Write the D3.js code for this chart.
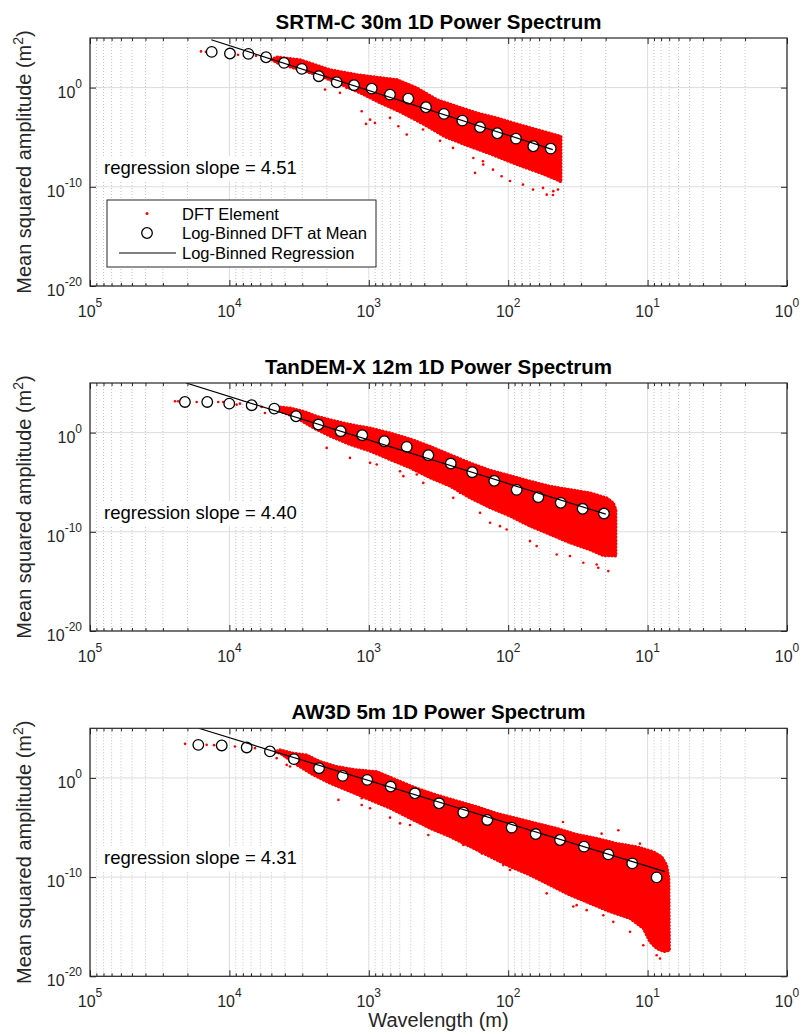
<!DOCTYPE html>
<html>
<head>
<meta charset="utf-8">
<script src="https://cdnjs.cloudflare.com/ajax/libs/d3/7.8.5/d3.min.js"></script>
<style>
  body { margin: 0; background: #fff; }
  svg { display: block; font-family: "Liberation Sans", Arial, Helvetica, sans-serif; }
</style>
</head>
<body>
<svg id="chart" width="802" height="1036"></svg>
<script>
// All values are log10 of wavelength (m) and of mean squared amplitude (m^2),
// read off the original figure.

var panelTitles = ["SRTM-C 30m 1D Power Spectrum", "TanDEM-X 12m 1D Power Spectrum", "AW3D 5m 1D Power Spectrum"];
var slopeLabels = ["regression slope = 4.51", "regression slope = 4.40", "regression slope = 4.31"];
var legendLabels = ["DFT Element", "Log-Binned DFT at Mean", "Log-Binned Regression"];
var xTickExps = [5, 4, 3, 2, 1, 0];
var yTickExps = [-20, -10, 0];

// ---- SRTM-C 30m ----
var srtmBinWl  = [4.127, 3.996, 3.864, 3.737, 3.608, 3.481, 3.359, 3.230, 3.106, 2.979, 2.848, 2.717, 2.590, 2.461, 2.329, 2.202, 2.078, 1.944, 1.820, 1.695];
var srtmBinAmp = [3.60, 3.43, 3.40, 3.06, 2.49, 1.89, 1.15, 0.54, 0.24, -0.10, -0.71, -1.11, -1.98, -2.65, -3.33, -3.99, -4.60, -5.14, -5.91, -6.15];
var srtmRegWl  = [4.13, 1.68];
var srtmRegAmp = [4.82, -6.25];
var srtmHiWl   = [3.700, 3.659, 3.494, 3.278, 3.085, 2.941, 2.798, 2.654, 2.511, 2.368, 2.224, 2.081, 1.937, 1.794, 1.650, 1.621];
var srtmHiAmp  = [2.85, 3.09, 2.82, 1.81, 1.31, 1.05, 0.81, -0.03, -1.21, -1.88, -2.55, -3.05, -3.66, -4.23, -4.80, -4.90];
var srtmLoWl   = [3.659, 3.494, 3.350, 3.207, 3.063, 2.920, 2.776, 2.611, 2.453, 2.288, 2.130, 1.987, 1.894, 1.772, 1.650, 1.621];
var srtmLoAmp  = [2.49, 1.78, 1.18, 0.37, -0.53, -1.54, -2.45, -3.66, -4.97, -5.88, -6.68, -7.49, -7.99, -8.60, -9.30, -9.51];
var srtmDotWl  = [4.204, 4.168, 3.938, 3.809, 3.694, 3.314, 3.207, 3.159, 3.051, 2.991, 2.956, 3.020, 2.848, 2.788, 2.728, 2.611, 2.489, 2.396, 2.238, 2.181, 2.109, 2.047, 1.987, 1.894, 1.822, 1.750, 1.724, 1.643, 1.679, 2.250, 2.179, 1.676];
var srtmDotAmp = [3.65, 3.60, 3.30, 3.20, 2.79, -0.20, -0.53, -0.03, -2.38, -3.23, -3.56, -3.66, -3.05, -3.89, -4.74, -4.23, -5.37, -6.08, -8.60, -7.42, -8.27, -8.93, -9.41, -9.78, -10.28, -10.11, -10.79, -10.28, -10.82, -7.09, -7.76, -10.44];

// ---- TanDEM-X 12m ----
var tdxBinWl  = [4.319, 4.159, 4.001, 3.840, 3.678, 3.522, 3.362, 3.202, 3.047, 2.889, 2.728, 2.573, 2.412, 2.258, 2.100, 1.939, 1.784, 1.623, 1.466, 1.313];
var tdxBinAmp = [3.09, 3.09, 2.92, 2.76, 2.42, 1.65, 0.81, 0.14, -0.26, -0.87, -1.44, -2.28, -3.12, -3.99, -4.86, -5.77, -6.51, -7.08, -7.68, -8.16];
var tdxRegWl  = [4.31, 1.30];
var tdxRegAmp = [5.0, -8.22];
var tdxHiWl   = [3.680, 3.637, 3.565, 3.470, 3.374, 3.278, 3.183, 3.087, 2.991, 2.848, 2.704, 2.561, 2.418, 2.274, 2.130, 1.987, 1.844, 1.700, 1.557, 1.413, 1.293, 1.246, 1.227];
var tdxHiAmp  = [2.40, 2.59, 2.48, 2.16, 1.65, 1.31, 0.98, 0.70, 0.47, -0.03, -0.63, -1.37, -2.22, -3.05, -3.79, -4.33, -4.89, -5.40, -5.74, -6.07, -6.58, -7.08, -7.75];
var tdxLoWl   = [3.637, 3.517, 3.398, 3.278, 3.135, 2.991, 2.848, 2.704, 2.561, 2.418, 2.274, 2.130, 1.987, 1.844, 1.700, 1.557, 1.413, 1.318, 1.227];
var tdxLoAmp  = [2.16, 1.48, 0.47, -0.36, -1.21, -1.87, -2.72, -3.55, -4.56, -5.40, -6.58, -7.58, -8.42, -9.43, -10.27, -11.11, -11.82, -12.40, -12.45];
var tdxDotWl  = [4.390, 4.367, 4.235, 4.080, 4.044, 3.948, 3.924, 3.768, 3.745, 3.709, 3.302, 3.135, 2.991, 2.943, 2.776, 2.752, 2.656, 2.609, 2.394, 2.346, 2.202, 2.130, 2.059, 2.011, 1.844, 1.796, 1.652, 1.557, 1.461, 1.365, 1.282, 1.354];
var tdxDotAmp = [3.16, 3.16, 3.09, 3.09, 3.09, 2.82, 2.92, 2.59, 1.98, 2.32, -1.54, -2.55, -3.05, -3.22, -3.89, -4.39, -4.23, -5.07, -6.58, -6.07, -8.09, -9.09, -9.43, -9.77, -10.94, -11.44, -12.29, -12.45, -13.12, -13.29, -13.96, -13.63];

// ---- AW3D 5m ----
var awBinWl  = [4.223, 4.055, 3.876, 3.709, 3.537, 3.357, 3.187, 3.011, 2.843, 2.669, 2.496, 2.322, 2.150, 1.975, 1.803, 1.628, 1.456, 1.282, 1.110, 0.935];
var awBinAmp = [3.33, 3.27, 3.07, 2.67, 1.89, 0.98, 0.20, -0.20, -0.87, -1.55, -2.56, -3.49, -4.24, -5.01, -5.66, -6.26, -6.93, -7.71, -8.62, -10.03];
var awRegWl  = [4.22, 0.875];
var awRegAmp = [5.0, -9.45];
var awHiWl   = [3.680, 3.637, 3.542, 3.446, 3.350, 3.231, 3.087, 2.944, 2.801, 2.656, 2.513, 2.369, 2.226, 2.083, 1.939, 1.796, 1.652, 1.509, 1.365, 1.222, 1.078, 0.959, 0.899, 0.863, 0.847, 0.843];
var awHiAmp  = [2.60, 2.83, 2.49, 2.32, 1.66, 1.15, 0.81, 0.65, -0.20, -1.04, -1.72, -2.32, -2.89, -3.57, -4.07, -4.58, -5.08, -5.69, -6.09, -6.60, -6.93, -7.43, -7.94, -8.79, -10.13, -17.40];
var awLoWl   = [3.637, 3.517, 3.398, 3.278, 3.135, 2.991, 2.848, 2.704, 2.561, 2.418, 2.274, 2.130, 1.987, 1.844, 1.700, 1.557, 1.413, 1.270, 1.127, 1.031, 0.983, 0.935, 0.882];
var awLoAmp  = [2.49, 1.31, 0.30, -0.54, -1.37, -2.22, -3.06, -4.07, -5.08, -5.92, -6.93, -7.94, -8.95, -9.80, -10.81, -11.82, -12.66, -13.49, -14.17, -15.18, -16.53, -17.20, -17.51];
var awDotWl  = [4.318, 4.163, 4.110, 3.960, 3.816, 3.661, 3.589, 3.565, 3.218, 3.051, 3.051, 2.991, 2.848, 2.776, 2.704, 2.573, 2.394, 2.322, 2.190, 2.035, 1.987, 1.724, 1.652, 1.533, 1.509, 1.437, 1.318, 1.246, 1.126, 1.031, 0.935, 0.911, 1.607, 1.330, 1.210, 1.055];
var awDotAmp = [3.43, 3.33, 3.30, 3.17, 3.00, 1.99, 1.31, 1.15, -2.22, -2.05, -2.73, -3.06, -4.00, -4.58, -4.75, -5.76, -6.09, -6.77, -7.61, -8.79, -9.29, -11.64, -11.14, -12.96, -12.83, -13.33, -13.84, -14.51, -15.52, -16.87, -17.88, -18.21, -4.44, -5.62, -5.28, -6.63];

var panels = [
  { binWl: srtmBinWl, binAmp: srtmBinAmp, regWl: srtmRegWl, regAmp: srtmRegAmp,
    hiWl: srtmHiWl, hiAmp: srtmHiAmp, loWl: srtmLoWl, loAmp: srtmLoAmp, dotWl: srtmDotWl, dotAmp: srtmDotAmp },
  { binWl: tdxBinWl, binAmp: tdxBinAmp, regWl: tdxRegWl, regAmp: tdxRegAmp,
    hiWl: tdxHiWl, hiAmp: tdxHiAmp, loWl: tdxLoWl, loAmp: tdxLoAmp, dotWl: tdxDotWl, dotAmp: tdxDotAmp },
  { binWl: awBinWl, binAmp: awBinAmp, regWl: awRegWl, regAmp: awRegAmp,
    hiWl: awHiWl, hiAmp: awHiAmp, loWl: awLoWl, loAmp: awLoAmp, dotWl: awDotWl, dotAmp: awDotAmp }
];

// ---- layout ----
var svg = d3.select("#chart");
var plotLeft = 90, plotRight = 787, plotHeight = 248;
var panelTops = [38, 383, 728.3];
var axisColor = "#262626";

var x = d3.scaleLog().domain([1e5, 1]).range([plotLeft, plotRight]);

var xMajors = xTickExps.map(function(e) { return Math.pow(10, e); });
var xMinors = [];
for (var k = 0; k < 5; k++) {
  for (var m = 2; m <= 9; m++) xMinors.push(m * Math.pow(10, k));
}
var yMajors = yTickExps.map(function(e) { return Math.pow(10, e); });

function pow10(v) { return Math.pow(10, v); }

// "10" with a raised exponent
function powerLabel(sel, exp) {
  sel.text("10");
  sel.append("tspan").attr("dy", -10).attr("font-size", 12).text(exp);
}

panels.forEach(function(p, i) {
  var top = panelTops[i];
  var y = d3.scaleLog().domain([1e-20, 1e5]).range([top + plotHeight, top]);
  var g = svg.append("g").attr("class", "panel");

  g.append("clipPath").attr("id", "clip" + i)
    .append("rect")
      .attr("x", plotLeft).attr("y", top)
      .attr("width", plotRight - plotLeft).attr("height", plotHeight);

  // Grid lines
  g.append("g").selectAll("line")
    .data(xMinors)
    .enter().append("line")
      .attr("x1", function(d) { return x(d); })
      .attr("x2", function(d) { return x(d); })
      .attr("y1", top).attr("y2", top + plotHeight)
      .attr("stroke", "#b4b4b4")
      .attr("stroke-width", 0.8)
      .attr("stroke-dasharray", "1,2");

  g.append("g").selectAll("line")
    .data(xMajors)
    .enter().append("line")
      .attr("x1", function(d) { return x(d); })
      .attr("x2", function(d) { return x(d); })
      .attr("y1", top).attr("y2", top + plotHeight)
      .attr("stroke", "#dcdcdc");

  g.append("g").selectAll("line")
    .data(yMajors)
    .enter().append("line")
      .attr("x1", plotLeft).attr("x2", plotRight)
      .attr("y1", function(d) { return y(d); })
      .attr("y2", function(d) { return y(d); })
      .attr("stroke", "#dcdcdc");

  var data = g.append("g").attr("clip-path", "url(#clip" + i + ")");

  // Dense cloud of DFT elements: upper edge left->right, lower edge right->left
  var outline = p.hiWl.map(function(w, j) { return [w, p.hiAmp[j]]; })
    .concat(p.loWl.map(function(w, j) { return [w, p.loAmp[j]]; }).reverse());
  var cloudLine = d3.line()
    .x(function(d) { return x(pow10(d[0])); })
    .y(function(d) { return y(pow10(d[1])); });
  data.append("path")
    .attr("d", cloudLine(outline) + "Z")
    .attr("fill", "#ff0000")
    .attr("stroke", "#ff0000")
    .attr("stroke-width", 1.5)
    .attr("stroke-linejoin", "round");
  // beaded edge so the cloud border reads as dots
  data.append("path")
    .attr("d", cloudLine(outline) + "Z")
    .attr("fill", "none")
    .attr("stroke", "#ff0000")
    .attr("stroke-width", 3)
    .attr("stroke-linecap", "round")
    .attr("stroke-dasharray", "0.1,3.2");

  // Scattered individual DFT elements
  data.append("g").selectAll("circle")
    .data(p.dotWl)
    .enter().append("circle")
      .attr("cx", function(d) { return x(pow10(d)); })
      .attr("cy", function(d, j) { return y(pow10(p.dotAmp[j])); })
      .attr("r", 1.3)
      .attr("fill", "#ff0000");

  // Log-binned means
  data.append("g").selectAll("circle")
    .data(p.binWl)
    .enter().append("circle")
      .attr("cx", function(d) { return x(pow10(d)); })
      .attr("cy", function(d, j) { return y(pow10(p.binAmp[j])); })
      .attr("r", 5.3)
      .attr("fill", "#fff")
      .attr("stroke", "#000")
      .attr("stroke-width", 1.3);

  // Regression line
  data.append("line")
    .attr("x1", x(pow10(p.regWl[0]))).attr("y1", y(pow10(p.regAmp[0])))
    .attr("x2", x(pow10(p.regWl[1]))).attr("y2", y(pow10(p.regAmp[1])))
    .attr("stroke", "#000")
    .attr("stroke-width", 1.2);

  // Ticks (inward, all four sides)
  var axes = g.append("g").attr("class", "axes");
  axes.append("g").attr("transform", "translate(0," + (top + plotHeight) + ")")
    .call(d3.axisBottom(x).tickValues(xMajors).tickSize(-6).tickFormat(""));
  axes.append("g").attr("transform", "translate(0," + (top + plotHeight) + ")")
    .call(d3.axisBottom(x).tickValues(xMinors).tickSize(-3).tickFormat(""));
  axes.append("g").attr("transform", "translate(0," + top + ")")
    .call(d3.axisTop(x).tickValues(xMajors).tickSize(-6).tickFormat(""));
  axes.append("g").attr("transform", "translate(0," + top + ")")
    .call(d3.axisTop(x).tickValues(xMinors).tickSize(-3).tickFormat(""));
  axes.append("g").attr("transform", "translate(" + plotLeft + ",0)")
    .call(d3.axisLeft(y).tickValues(yMajors).tickSize(-6).tickFormat(""));
  axes.append("g").attr("transform", "translate(" + plotRight + ",0)")
    .call(d3.axisRight(y).tickValues(yMajors).tickSize(-6).tickFormat(""));
  axes.selectAll(".domain").remove();
  axes.selectAll(".tick line").attr("stroke", axisColor);

  // Box
  g.append("rect")
    .attr("x", plotLeft).attr("y", top)
    .attr("width", plotRight - plotLeft).attr("height", plotHeight)
    .attr("fill", "none")
    .attr("stroke", axisColor)
    .attr("stroke-width", 1.2);

  // Tick labels
  g.append("g").selectAll("text")
    .data(xTickExps)
    .enter().append("text")
      .attr("x", function(d) { return x(pow10(d)); })
      .attr("y", top + plotHeight + 31)
      .attr("text-anchor", "middle")
      .attr("font-size", 16)
      .attr("fill", axisColor)
      .each(function(d) { powerLabel(d3.select(this), String(d)); });

  g.append("g").selectAll("text")
    .data(yTickExps)
    .enter().append("text")
      .attr("x", plotLeft - 8)
      .attr("y", function(d) { return y(pow10(d)) + 10; })
      .attr("text-anchor", "end")
      .attr("font-size", 16)
      .attr("fill", axisColor)
      .each(function(d) { powerLabel(d3.select(this), d === 0 ? "0" : String(d)); });

  // Y axis label
  var yl = g.append("text")
    .attr("transform", "translate(31," + (top + plotHeight / 2) + ") rotate(-90)")
    .attr("text-anchor", "middle")
    .attr("font-size", 20)
    .attr("fill", axisColor)
    .text("Mean squared amplitude (m");
  yl.append("tspan").attr("dy", -8).attr("font-size", 14).text("2");
  yl.append("tspan").attr("dy", 8).text(")");

  // Title
  g.append("text")
    .attr("x", (plotLeft + plotRight) / 2)
    .attr("y", top - 9.5)
    .attr("text-anchor", "middle")
    .attr("font-size", 20.5)
    .attr("font-weight", "bold")
    .attr("fill", "#000")
    .text(panelTitles[i]);

  // Slope annotation with white background
  g.append("rect")
    .attr("x", 100).attr("y", top + 118)
    .attr("width", 200).attr("height", 25)
    .attr("fill", "#fff");
  g.append("text")
    .attr("x", 104)
    .attr("y", top + 136)
    .attr("font-size", 18.5)
    .attr("fill", "#000")
    .text(slopeLabels[i]);

  if (i === 0) drawLegend(g, top);
});

function drawLegend(g, top) {
  var lx = 107, ly = top + 162, lw = 269, lh = 67;
  var leg = g.append("g").attr("class", "legend");
  leg.append("rect")
    .attr("x", lx).attr("y", ly)
    .attr("width", lw).attr("height", lh)
    .attr("fill", "#fff")
    .attr("stroke", axisColor)
    .attr("stroke-width", 1);

  var rowY = [ly + 13.5, ly + 33, ly + 53];
  leg.append("circle").attr("cx", 147).attr("cy", rowY[0]).attr("r", 1.5).attr("fill", "#ff0000");
  leg.append("circle").attr("cx", 147).attr("cy", rowY[1]).attr("r", 5.3)
    .attr("fill", "#fff").attr("stroke", "#000").attr("stroke-width", 1.3);
  leg.append("line").attr("x1", 119).attr("x2", 176).attr("y1", rowY[2]).attr("y2", rowY[2])
    .attr("stroke", "#000").attr("stroke-width", 1.2);

  leg.selectAll("text.entry")
    .data(legendLabels)
    .enter().append("text")
      .attr("class", "entry")
      .attr("x", 182)
      .attr("y", function(d, j) { return rowY[j] + 6; })
      .attr("font-size", 16.5)
      .attr("fill", "#000")
      .text(function(d) { return d; });
}

// X axis label (bottom panel only)
svg.append("text")
  .attr("x", (plotLeft + plotRight) / 2)
  .attr("y", 1027)
  .attr("text-anchor", "middle")
  .attr("font-size", 20)
  .attr("fill", axisColor)
  .text("Wavelength (m)");
</script>
</body>
</html>
